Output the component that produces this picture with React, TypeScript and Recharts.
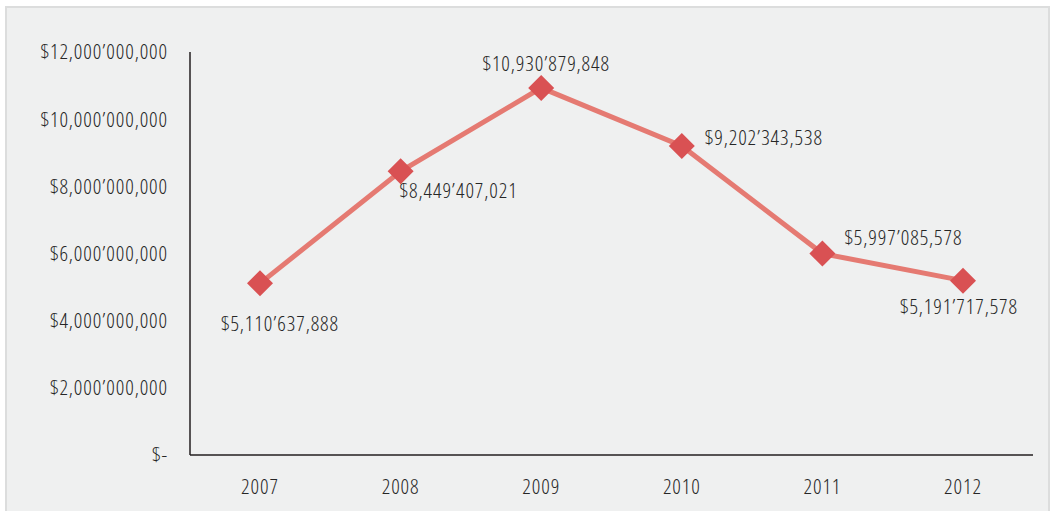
import React from "react";
import { LineChart, Line, XAxis, YAxis } from "recharts";

const years = ["2007", "2008", "2009", "2010", "2011", "2012"];
const amounts = [5110637888, 8449407021, 10930879848, 9202343538, 5997085578, 5191717578];
const yTicks = [0, 2000000000, 4000000000, 6000000000, 8000000000, 10000000000, 12000000000];

const data = years.map((year, i) => ({ year, amount: amounts[i] }));

const FONT = "'Open Sans', sans-serif";
const STRETCH = "75%";
const FS = 21;
const WEIGHT = 300;
const SPACING = 0.9;
const TEXT = "#262626";

function money(n: number): string {
  if (n === 0) return "$-";
  const s = Math.round(n).toString();
  const groups: string[] = [];
  for (let end = s.length; end > 0; end -= 3) {
    groups.unshift(s.slice(Math.max(0, end - 3), end));
  }
  let out = groups[groups.length - 1];
  for (let g = groups.length - 2, k = 0; g >= 0; g--, k++) {
    const sep = k === 1 ? "’" : ",";
    out = groups[g] + sep + out;
  }
  return "$" + out;
}

const placement: [number, number, "start" | "middle" | "end"][] = [
  [20, 42, "middle"],
  [-1, 21, "start"],
  [5, -23, "middle"],
  [23, -7, "start"],
  [22, -14, "start"],
  [-4, 28, "middle"],
];

const PointLabel = (props: any) => {
  const { x, y, value, index } = props;
  const [dx, dy, anchor] = placement[index];
  return (
    <text
      x={x + dx}
      y={y + dy}
      textAnchor={anchor}
      dominantBaseline="middle"
      fontFamily={FONT}
      fontSize={FS}
      fontWeight={WEIGHT}
      letterSpacing={SPACING}
      style={{ fontStretch: STRETCH }}
      fill={TEXT}
    >
      {money(value)}
    </text>
  );
};

const Diamond = (props: any) => {
  const { cx, cy } = props;
  const r = 13;
  return (
    <path
      d={`M${cx},${cy - r} L${cx + r},${cy} L${cx},${cy + r} L${cx - r},${cy} Z`}
      fill="#d95153"
    />
  );
};

const tickStyle = {
  fontFamily: FONT,
  fontSize: FS,
  fontWeight: WEIGHT,
  letterSpacing: SPACING,
  fill: TEXT,
  style: { fontStretch: STRETCH },
} as any;

export default function App() {
  return (
    <div style={{ position: "absolute", left: 0, top: 0, width: 1056, height: 511, background: "#ffffff" }}>
      <div
        style={{
          position: "absolute",
          left: 5,
          top: 6,
          width: 1045,
          height: 510,
          background: "#eff0f0",
          border: "2px solid #dcdddd",
          boxSizing: "border-box",
        }}
      />
      <div style={{ position: "absolute", left: 0, top: 0 }}>
        <LineChart width={1056} height={511} data={data} margin={{ top: 52, right: 23, bottom: 0, left: 0 }}>
          <XAxis
            dataKey="year"
            height={56}
            tickLine={false}
            axisLine={{ stroke: "#231f20", strokeWidth: 1.5 }}
            tick={tickStyle}
            tickMargin={18}
            padding={{ left: 70, right: 70 }}
          />
          <YAxis
            width={190}
            domain={[0, 12000000000]}
            ticks={yTicks}
            tickFormatter={money}
            tickLine={false}
            axisLine={{ stroke: "#231f20", strokeWidth: 1.5 }}
            tick={tickStyle}
            tickMargin={16}
            interval={0}
          />
          <Line
            type="linear"
            dataKey="amount"
            stroke="#e57a72"
            strokeWidth={5}
            dot={<Diamond />}
            activeDot={false}
            isAnimationActive={false}
            label={<PointLabel />}
          />
        </LineChart>
      </div>
    </div>
  );
}
